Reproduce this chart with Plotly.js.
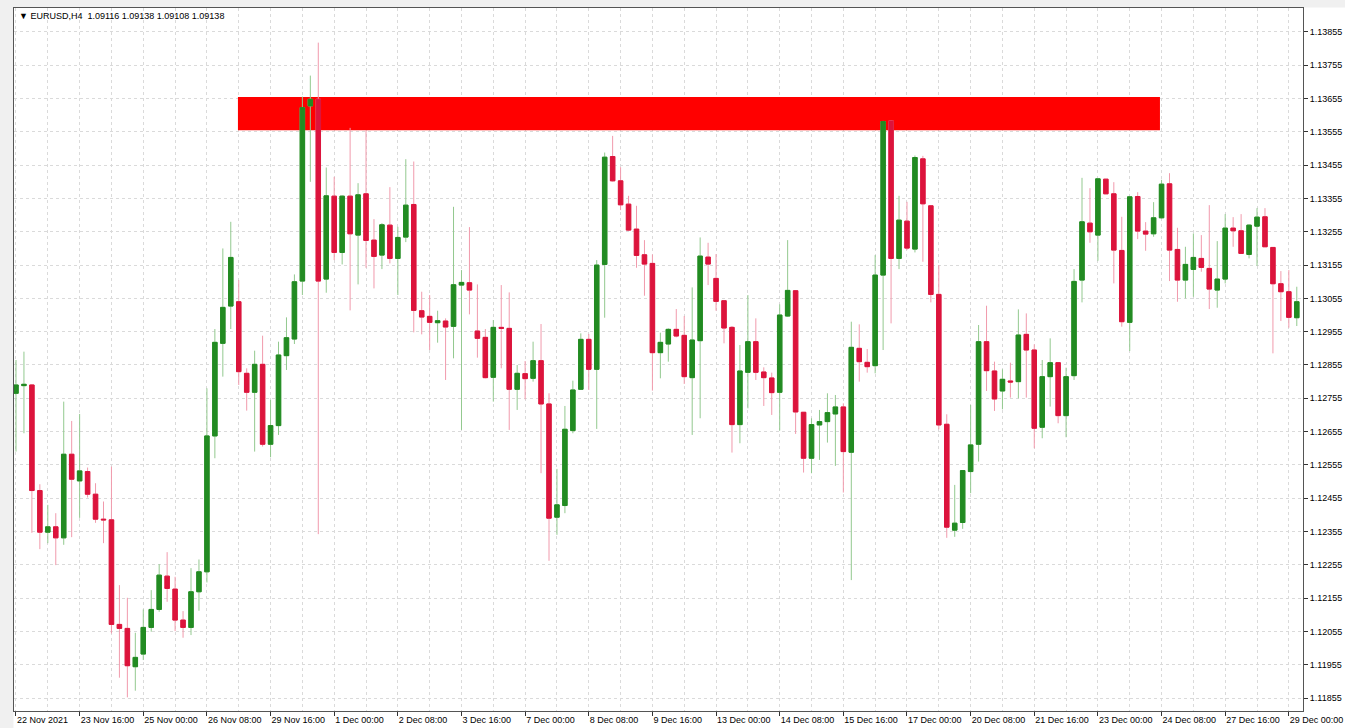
<!DOCTYPE html>
<html>
<head>
<meta charset="utf-8">
<script src="https://cdn.plot.ly/plotly-3.0.1.min.js"></script>
<style>
  html, body { margin: 0; padding: 0; background: #ffffff; }
  #chart { width: 1345px; height: 728px; }
</style>
</head>
<body>
<div id="chart"></div>
<script>
// ---- Data (EURUSD, H4) ----
const symbolTitle = "\u25BC EURUSD,H4  1.09116 1.09138 1.09108 1.09138";

const tickLabels = ["22 Nov 2021","23 Nov 16:00","25 Nov 00:00","26 Nov 08:00","29 Nov 16:00",
  "1 Dec 00:00","2 Dec 08:00","3 Dec 16:00","7 Dec 00:00","8 Dec 08:00","9 Dec 16:00",
  "13 Dec 00:00","14 Dec 08:00","15 Dec 16:00","17 Dec 00:00","20 Dec 08:00","21 Dec 16:00",
  "23 Dec 00:00","24 Dec 08:00","27 Dec 16:00","29 Dec 00:00"];
const barsPerLabel = 8;
const barsPerGrid = 4;

const opens = [
1.12770,1.12793,1.12795,1.12478,1.12353,1.12369,1.12336,1.12587,1.12507,1.12535,
1.12467,1.12392,1.12390,1.12076,1.12064,1.11949,1.11987,1.12067,1.12121,1.12221,
1.12182,1.12089,1.12067,1.12174,1.12234,1.12642,1.12920,1.13032,1.13045,1.12830,
1.12773,1.12857,1.12617,1.12673,1.12883,1.12933,1.13107,1.13633,1.13653,1.13113,
1.13362,1.13193,1.13362,1.13245,1.13369,1.13230,1.13185,1.13275,1.13175,1.13239,
1.13337,1.13018,1.13001,1.12982,1.12987,1.12971,1.13095,1.13102,1.12957,1.12938,
1.12818,1.12968,1.12965,1.12782,1.12829,1.12815,1.12868,1.12738,1.12398,1.12433,
1.12658,1.12782,1.12932,1.12842,1.13157,1.13481,1.13408,1.13338,1.13263,1.13186,
1.13160,1.12892,1.12918,1.12962,1.12944,1.12817,1.12928,1.13179,1.13115,1.13048,
1.12968,1.12676,1.12833,1.12925,1.12834,1.12816,1.12773,1.13002,1.13078,1.12713,
1.12575,1.12675,1.12685,1.12708,1.12729,1.12593,1.12905,1.12863,1.12853,1.13125,
1.13588,1.13175,1.13287,1.13203,1.13474,1.13333,1.13067,1.12677,1.12359,1.12382,
1.12535,1.12617,1.12925,1.12837,1.12777,1.12807,1.12805,1.12947,1.12900,1.12668,
1.12820,1.12862,1.12703,1.12823,1.13110,1.13281,1.13245,1.13413,1.13369,1.13199,
1.12983,1.13361,1.13257,1.13249,1.13297,1.13399,1.13202,1.13110,1.13142,1.13175,
1.13145,1.13080,1.13113,1.13266,1.13258,1.13187,1.13272,1.13300,1.13208,1.13099,
1.13075,1.12997];

const highs = [
1.12870,1.12895,1.12797,1.12497,1.12435,1.12410,1.12745,1.12687,1.12708,1.12547,
1.12500,1.12445,1.12550,1.12194,1.12156,1.12051,1.12121,1.12179,1.12257,1.12293,
1.12219,1.12116,1.12245,1.12271,1.12785,1.12963,1.13205,1.13285,1.13110,1.12845,
1.12898,1.12943,1.12750,1.12925,1.12998,1.13127,1.13661,1.13724,1.13823,1.13448,
1.13420,1.13364,1.13567,1.13401,1.13560,1.13293,1.13281,1.13389,1.13270,1.13473,
1.13466,1.13075,1.13065,1.13018,1.12995,1.13330,1.13140,1.13269,1.13097,1.12963,
1.12990,1.13095,1.13073,1.12855,1.12867,1.12925,1.12978,1.12770,1.12543,1.12732,
1.12808,1.12950,1.12948,1.13170,1.13493,1.13543,1.13449,1.13363,1.13333,1.13230,
1.13187,1.12952,1.12965,1.13023,1.13002,1.13088,1.13238,1.13222,1.13188,1.13048,
1.12972,1.12915,1.13065,1.12995,1.12848,1.12832,1.13037,1.13230,1.13080,1.12713,
1.12695,1.12720,1.12770,1.12765,1.12740,1.12985,1.12977,1.12903,1.13185,1.13588,
1.13590,1.13363,1.13345,1.13484,1.13483,1.13333,1.13155,1.12707,1.12495,1.12538,
1.12735,1.12975,1.13033,1.12865,1.12842,1.12862,1.13022,1.13010,1.12917,1.12870,
1.12935,1.12862,1.12847,1.13143,1.13417,1.13386,1.13414,1.13413,1.13404,1.13300,
1.13360,1.13374,1.13284,1.13344,1.13411,1.13431,1.13267,1.13210,1.13250,1.13245,
1.13335,1.13227,1.13308,1.13299,1.13308,1.13277,1.13326,1.13326,1.13208,1.13137,
1.13140,1.13090];

const lows = [
1.12595,1.12650,1.12351,1.12302,1.12320,1.12254,1.12315,1.12338,1.12396,1.12457,
1.12381,1.12320,1.12049,1.11916,1.11857,1.11877,1.11969,1.12054,1.12114,1.12144,
1.12056,1.12036,1.12044,1.12117,1.12202,1.12575,1.12820,1.12963,1.12795,1.12718,
1.12595,1.12610,1.12578,1.12645,1.12840,1.12918,1.13065,1.13405,1.12347,1.13072,
1.13170,1.13157,1.13019,1.13097,1.13147,1.13085,1.13143,1.13160,1.13065,1.13224,
1.12953,1.12947,1.12900,1.12922,1.12810,1.12875,1.12660,1.13007,1.12877,1.12815,
1.12745,1.12845,1.12660,1.12720,1.12752,1.12805,1.12530,1.12267,1.12345,1.12410,
1.12650,1.12780,1.12780,1.12663,1.12997,1.13406,1.13320,1.13258,1.13147,1.13063,
1.12778,1.12815,1.12865,1.12938,1.12798,1.12645,1.12695,1.13095,1.13018,1.12920,
1.12592,1.12620,1.12725,1.12810,1.12732,1.12705,1.12658,1.13000,1.12648,1.12532,
1.12530,1.12570,1.12622,1.12552,1.12472,1.12209,1.12805,1.12832,1.12830,1.12900,
1.12980,1.13143,1.13200,1.13193,1.13165,1.13043,1.12662,1.12336,1.12339,1.12363,
1.12470,1.12565,1.12777,1.12717,1.12722,1.12757,1.12755,1.12757,1.12605,1.12635,
1.12730,1.12680,1.12638,1.12810,1.13043,1.13222,1.13168,1.13368,1.13100,1.12970,
1.12897,1.13233,1.13198,1.13240,1.13295,1.13107,1.13045,1.13055,1.13060,1.13135,
1.13023,1.13027,1.13100,1.13210,1.13190,1.13175,1.13153,1.13210,1.12890,1.12987,
1.12967,1.12972];

const closes = [
1.12795,1.12797,1.12478,1.12353,1.12369,1.12336,1.12587,1.12512,1.12537,1.12467,
1.12392,1.12390,1.12076,1.12064,1.11952,1.11977,1.12067,1.12121,1.12224,1.12184,
1.12089,1.12067,1.12174,1.12234,1.12642,1.12923,1.13028,1.13178,1.12835,1.12773,
1.12857,1.12617,1.12673,1.12885,1.12937,1.13105,1.13628,1.13653,1.13107,1.13363,
1.13193,1.13362,1.13249,1.13366,1.13229,1.13181,1.13276,1.13175,1.13238,1.13335,
1.13019,1.12999,1.12983,1.12988,1.12969,1.13096,1.13103,1.13080,1.12935,1.12817,
1.12968,1.12965,1.12782,1.12830,1.12814,1.12868,1.12738,1.12395,1.12435,1.12662,
1.12780,1.12932,1.12842,1.13155,1.13479,1.13408,1.13336,1.13260,1.13184,1.13158,
1.12892,1.12923,1.12962,1.12942,1.12820,1.12930,1.13182,1.13158,1.13046,1.12966,
1.12676,1.12837,1.12925,1.12833,1.12817,1.12772,1.13005,1.13079,1.12714,1.12575,
1.12676,1.12685,1.12712,1.12729,1.12595,1.12908,1.12865,1.12850,1.13125,1.13586,
1.13175,1.13290,1.13206,1.13478,1.13339,1.13067,1.12675,1.12368,1.12380,1.12538,
1.12615,1.12925,1.12838,1.12753,1.12812,1.12804,1.12945,1.12900,1.12665,1.12820,
1.12862,1.12703,1.12820,1.13106,1.13285,1.13255,1.13414,1.13369,1.13200,1.12985,
1.13360,1.13257,1.13248,1.13297,1.13398,1.13200,1.13110,1.13157,1.13178,1.13148,
1.13083,1.13113,1.13266,1.13258,1.13190,1.13275,1.13299,1.13210,1.13099,1.13075,
1.12998,1.13045];

// resistance zone (red rectangle), in bar index / price units
const zoneStartBar = 27.9;
const zoneEndBar = 143.8;
const zoneLow = 1.13560;
const zoneHigh = 1.13660;

// price axis ticks
const priceTickStart = 1.11855;
const priceTickStep = 0.001;

// ---- Build ----
const barIdx = opens.map((_, i) => i);
const bodyHigh = opens.map((o, i) => Math.max(o, closes[i]));
const bodyLow = opens.map((o, i) => Math.min(o, closes[i]));
const tickVals = tickLabels.map((_, i) => i * barsPerLabel);

const BULL = '#228b22', BEAR = '#dc143c';
const BULL_WICK = '#93c98f', BEAR_WICK = '#f19aac';
const GRID = '#dadada';
const FONT = 'Liberation Sans, Arial, sans-serif';

const wickTrace = {
  type: 'candlestick', x: barIdx,
  open: opens, high: highs, low: lows, close: closes,
  increasing: { line: { color: BULL_WICK, width: 1 }, fillcolor: BULL_WICK },
  decreasing: { line: { color: BEAR_WICK, width: 1 }, fillcolor: BEAR_WICK },
  whiskerwidth: 0, hoverinfo: 'skip', showlegend: false
};
const bodyTrace = {
  type: 'candlestick', x: barIdx,
  open: opens, high: bodyHigh, low: bodyLow, close: closes,
  increasing: { line: { color: BULL, width: 1 }, fillcolor: BULL },
  decreasing: { line: { color: BEAR, width: 1 }, fillcolor: BEAR },
  whiskerwidth: 0, showlegend: false
};

const layout = {
  width: 1345, height: 728,
  margin: { l: 14, r: 42, t: 8, b: 17, pad: 0 },
  paper_bgcolor: '#ffffff', plot_bgcolor: '#ffffff',
  showlegend: false,
  boxmode: 'overlay', boxgap: 0.25, boxgroupgap: 0.25,
  font: { family: FONT, size: 9, color: '#000000' },
  xaxis: {
    type: 'linear', range: [-0.25, 161.78], fixedrange: true,
    rangeslider: { visible: false },
    tickmode: 'array', tickvals: tickVals, ticktext: tickLabels,
    ticks: 'outside', ticklen: 4, tickcolor: '#333333', tickwidth: 1,
    ticklabelposition: 'outside right', ticklabeloverflow: 'allow',
    tickfont: { family: FONT, size: 9, color: '#000000' },
    showgrid: true, gridcolor: GRID, griddash: 'dot', gridwidth: 1,
    minor: { dtick: barsPerGrid, tick0: 0, showgrid: true, gridcolor: GRID, griddash: 'dot', gridwidth: 1, ticks: '' },
    showline: true, mirror: true, linecolor: '#555555', linewidth: 1,
    zeroline: false
  },
  yaxis: {
    side: 'right', range: [1.11816, 1.13927], fixedrange: true,
    tick0: priceTickStart, dtick: priceTickStep, tickformat: '.5f',
    ticks: 'outside', ticklen: 4, tickcolor: '#333333', tickwidth: 1,
    tickfont: { family: FONT, size: 9, color: '#000000' },
    showgrid: true, gridcolor: GRID, griddash: 'dot', gridwidth: 1,
    showline: true, mirror: true, linecolor: '#555555', linewidth: 1,
    zeroline: false
  },
  shapes: [
    { type: 'rect', xref: 'x', yref: 'y', layer: 'between',
      x0: zoneStartBar, x1: zoneEndBar, y0: zoneLow, y1: zoneHigh,
      fillcolor: '#ff0000', line: { width: 0 } },
    { type: 'rect', xref: 'paper', yref: 'paper', layer: 'below',
      x0: -0.0115, x1: -0.0004, y0: -0.03, y1: 1.0125,
      fillcolor: '#f0f0f0', line: { width: 0 } },
    { type: 'rect', xref: 'paper', yref: 'paper', layer: 'below',
      x0: -0.0115, x1: 1.034, y0: 1.0006, y1: 1.0125,
      fillcolor: '#f0f0f0', line: { width: 0 } }
  ],
  annotations: [
    { xref: 'paper', yref: 'paper', x: 0, y: 1, xanchor: 'left', yanchor: 'top',
      xshift: 3, yshift: -1, showarrow: false, text: symbolTitle,
      font: { family: FONT, size: 9, color: '#000000' } }
  ]
};

Plotly.newPlot('chart', [wickTrace, bodyTrace], layout, { displayModeBar: false, staticPlot: true });
</script>
</body>
</html>
